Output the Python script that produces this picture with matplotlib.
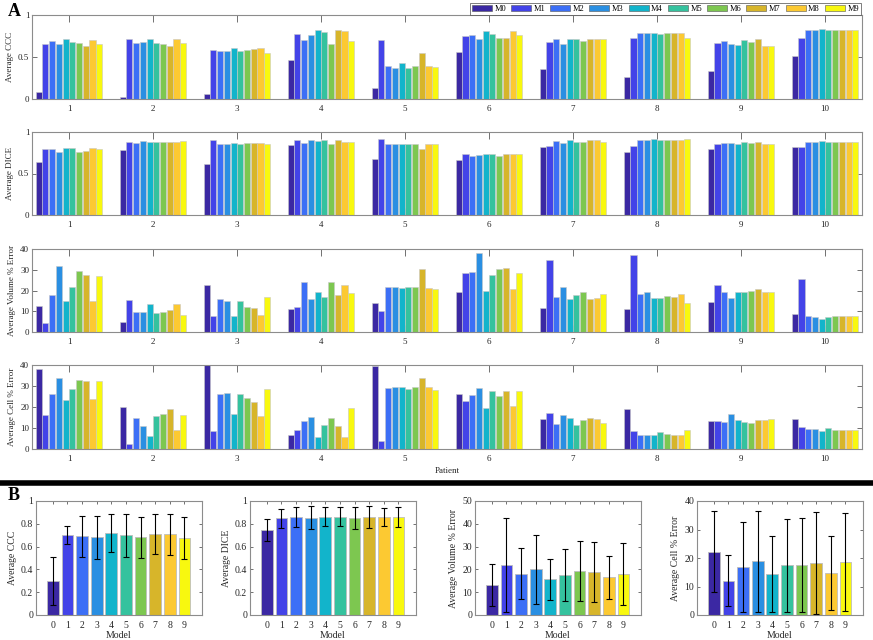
import numpy as np
import matplotlib
matplotlib.use("Agg")
import matplotlib.pyplot as plt
from matplotlib.lines import Line2D
from matplotlib.patches import Patch

plt.rcParams['font.family'] = ['Liberation Serif', 'DejaVu Serif']

models = ["M0", "M1", "M2", "M3", "M4", "M5", "M6", "M7", "M8", "M9"]
patients = [1, 2, 3, 4, 5, 6, 7, 8, 9, 10]

# panel A: one row per patient, one value per model
ccc = [
    [0.08, 0.66, 0.69, 0.65, 0.71, 0.68, 0.67, 0.63, 0.70, 0.66],
    [0.02, 0.71, 0.67, 0.68, 0.72, 0.67, 0.65, 0.63, 0.71, 0.67],
    [0.06, 0.58, 0.57, 0.57, 0.61, 0.57, 0.58, 0.59, 0.61, 0.55],
    [0.47, 0.77, 0.70, 0.76, 0.82, 0.80, 0.65, 0.82, 0.81, 0.69],
    [0.13, 0.70, 0.39, 0.37, 0.43, 0.37, 0.39, 0.55, 0.39, 0.38],
    [0.56, 0.75, 0.76, 0.72, 0.81, 0.77, 0.73, 0.73, 0.81, 0.76],
    [0.36, 0.68, 0.71, 0.66, 0.72, 0.71, 0.69, 0.71, 0.71, 0.71],
    [0.26, 0.73, 0.79, 0.79, 0.79, 0.77, 0.79, 0.79, 0.79, 0.73],
    [0.33, 0.67, 0.69, 0.66, 0.64, 0.70, 0.68, 0.71, 0.63, 0.63],
    [0.51, 0.73, 0.82, 0.82, 0.83, 0.82, 0.82, 0.82, 0.82, 0.82],
]
dice = [
    [0.64, 0.80, 0.80, 0.76, 0.81, 0.81, 0.76, 0.77, 0.81, 0.79],
    [0.78, 0.88, 0.87, 0.89, 0.88, 0.88, 0.88, 0.88, 0.88, 0.89],
    [0.62, 0.90, 0.86, 0.86, 0.87, 0.86, 0.87, 0.87, 0.87, 0.86],
    [0.84, 0.90, 0.87, 0.90, 0.89, 0.90, 0.86, 0.90, 0.88, 0.88],
    [0.67, 0.91, 0.85, 0.85, 0.85, 0.85, 0.85, 0.80, 0.85, 0.85],
    [0.66, 0.74, 0.71, 0.72, 0.74, 0.74, 0.71, 0.74, 0.74, 0.74],
    [0.82, 0.83, 0.89, 0.87, 0.90, 0.88, 0.88, 0.90, 0.90, 0.88],
    [0.76, 0.83, 0.90, 0.90, 0.91, 0.90, 0.90, 0.90, 0.90, 0.91],
    [0.79, 0.86, 0.87, 0.87, 0.86, 0.88, 0.87, 0.88, 0.86, 0.86],
    [0.82, 0.82, 0.88, 0.88, 0.89, 0.88, 0.88, 0.88, 0.88, 0.88],
]
vol_err = [
    [12.5, 4.5, 18.0, 32.0, 15.0, 21.6, 29.6, 27.5, 15.0, 26.9],
    [4.6, 15.5, 9.8, 9.8, 13.6, 9.0, 9.4, 10.4, 13.3, 8.3],
    [22.7, 7.5, 15.7, 15.0, 7.7, 15.0, 12.2, 11.5, 8.0, 17.1],
    [10.9, 12.0, 24.3, 16.0, 19.5, 16.8, 24.0, 18.0, 22.6, 18.9],
    [14.2, 9.9, 21.6, 21.9, 21.4, 21.6, 21.6, 30.4, 21.4, 20.8],
    [19.4, 28.5, 29.0, 37.9, 19.8, 27.7, 30.4, 30.9, 20.5, 28.6],
    [11.5, 34.7, 17.1, 21.8, 15.7, 17.8, 19.4, 15.7, 16.5, 18.4],
    [10.9, 37.0, 18.1, 19.2, 16.3, 16.3, 17.4, 17.1, 18.2, 13.8],
    [14.6, 22.6, 19.5, 16.6, 19.2, 19.2, 19.8, 20.8, 19.2, 19.5],
    [8.8, 25.6, 7.7, 7.4, 6.4, 7.4, 7.7, 7.7, 7.7, 7.7],
]
cell_err = [
    [37.9, 16.3, 26.3, 33.6, 23.3, 28.8, 32.8, 32.5, 23.6, 32.2],
    [19.8, 2.4, 15.0, 10.8, 6.2, 15.5, 16.6, 19.1, 8.9, 16.3],
    [41.0, 8.6, 26.3, 26.9, 16.6, 26.0, 24.1, 22.3, 15.9, 28.4],
    [6.5, 9.1, 13.2, 15.3, 5.9, 11.5, 14.7, 10.8, 5.9, 19.4],
    [39.7, 3.7, 29.0, 29.3, 29.3, 28.8, 29.3, 33.6, 29.5, 28.0],
    [26.3, 23.0, 25.7, 29.2, 19.6, 27.4, 25.2, 27.8, 20.5, 27.8],
    [14.3, 17.3, 11.9, 16.4, 14.8, 11.6, 14.0, 14.8, 14.3, 12.2],
    [18.9, 8.7, 6.6, 6.6, 6.7, 8.3, 7.1, 6.6, 6.6, 9.1],
    [13.3, 13.3, 12.8, 16.7, 13.6, 12.8, 12.2, 13.8, 13.8, 14.1],
    [14.4, 10.6, 9.5, 9.5, 8.7, 9.8, 9.0, 9.0, 9.0, 9.0],
]

# panel B: mean and std per model
model_ids = [0, 1, 2, 3, 4, 5, 6, 7, 8, 9]
ccc_mean = [0.30, 0.70, 0.69, 0.68, 0.72, 0.70, 0.68, 0.71, 0.71, 0.675]
ccc_std = [0.21, 0.08, 0.18, 0.19, 0.17, 0.19, 0.18, 0.175, 0.18, 0.185]
dice_mean = [0.746, 0.847, 0.858, 0.852, 0.864, 0.864, 0.852, 0.858, 0.86, 0.858]
dice_std = [0.095, 0.085, 0.09, 0.10, 0.08, 0.08, 0.095, 0.095, 0.08, 0.09]
vol_mean = [13.1, 21.8, 18.2, 20.0, 15.6, 17.5, 19.3, 18.8, 16.5, 18.0]
vol_std = [9.2, 20.6, 11.3, 15.0, 8.9, 11.5, 13.2, 13.3, 9.4, 13.6]
cell_mean = [22.2, 12.0, 16.9, 18.9, 14.4, 17.4, 17.6, 18.2, 14.6, 18.7]
cell_std = [14.2, 9.0, 15.9, 17.7, 13.2, 16.2, 16.6, 17.8, 13.0, 17.2]

colors = ["#3b28a3", "#4343e8", "#3c6ff6", "#2a8fe2", "#12b4cb",
          "#35c29e", "#7dc750", "#d7b52a", "#fcc932", "#f8f80f"]

W, H = 873, 640
fig = plt.figure(figsize=(W / 100, H / 100), dpi=100)


def px_axes(l, t, r, b):
    return fig.add_axes([l / W, 1 - b / H, (r - l) / W, (b - t) / H])


def style(ax, size=6.5):
    for s in ax.spines.values():
        s.set_color("#8c8c8c")
        s.set_linewidth(0.8)
    ax.tick_params(direction="in", top=True, right=True, length=3.5,
                   width=0.7, color="#707070", labelsize=size,
                   labelcolor="#262626", pad=2)


# ---- panel A
rows = [(15, 99), (132, 215), (249, 332), (365, 449)]
data_a = [ccc, dice, vol_err, cell_err]
ylabels = ["Average CCC", "Average DICE", "Average Volume % Error",
           "Average Cell % Error"]
yticks_a = [[0, 0.5, 1], [0, 0.5, 1], [0, 10, 20, 30, 40], [0, 10, 20, 30, 40]]
ytl_a = [["0", "0.5", "1"], ["0", "0.5", "1"], None, None]

x = np.array(patients)
step = 0.08
for i, (t, b) in enumerate(rows):
    ax = px_axes(32, t, 862, b)
    vals = np.array(data_a[i])
    for m in range(10):
        ax.bar(x + (m - 4.5) * step, vals[:, m], width=step * 0.9,
               color=colors[m], edgecolor="#c8c8c8", linewidth=0.4,
               label=models[m], zorder=2)
    ax.set_xlim(0.56, 10.44)
    ax.set_ylim(0, yticks_a[i][-1])
    ax.set_yticks(yticks_a[i])
    if ytl_a[i]:
        ax.set_yticklabels(ytl_a[i])
    ax.set_xticks(patients)
    ax.set_ylabel(ylabels[i], fontsize=6.5, color="#262626", labelpad=3)
    style(ax)
    ax.tick_params(axis="x", length=5, pad=4)
    if i == 0:
        handles = [Patch(facecolor=c, edgecolor="#555555", linewidth=0.4) for c in colors]
        leg = fig.legend(handles, models, loc="upper right",
                         bbox_to_anchor=(861 / W, 1 - 3 / H), ncol=10,
                         fontsize=6, frameon=True, fancybox=False,
                         handlelength=2.4, handleheight=0.8,
                         handletextpad=0.3, columnspacing=0.6,
                         borderpad=0.25, borderaxespad=0)
        leg.get_frame().set_edgecolor("#444444")
        leg.get_frame().set_linewidth(0.6)
    if i == 3:
        ax.set_xlabel("Patient", fontsize=6.5, color="#262626", labelpad=3)

fig.text(8 / W, 1 - 12 / H, "A", fontsize=13, fontweight="bold", va="center")
fig.add_artist(Line2D([0, 1], [1 - 483 / H, 1 - 483 / H], color="black",
                      linewidth=4, transform=fig.transFigure))
fig.text(8 / W, 1 - 496 / H, "B", fontsize=13, fontweight="bold", va="center")

# ---- panel B
lefts = [36, 250, 475, 697]
means = [ccc_mean, dice_mean, vol_mean, cell_mean]
stds = [ccc_std, dice_std, vol_std, cell_std]
ylabels_b = ["Average CCC", "Average DICE", "Average Volume % Error",
             "Average Cell % Error"]
yticks_b = [np.arange(0, 1.01, 0.2), np.arange(0, 1.01, 0.2),
            np.arange(0, 51, 10), np.arange(0, 41, 10)]
for j, l in enumerate(lefts):
    ax = px_axes(l, 501, l + 166, 615)
    ax.bar(model_ids, means[j], width=0.8, color=colors,
           edgecolor="#bdbdbd", linewidth=0.6, zorder=2)
    ax.errorbar(model_ids, means[j], yerr=stds[j], fmt="none",
                ecolor="black", elinewidth=0.8, capsize=2.2, capthick=0.8,
                zorder=3)
    ax.set_xlim(-1.15, 10.2)
    ax.set_ylim(0, yticks_b[j][-1])
    ax.set_yticks(yticks_b[j])
    if j < 2:
        ax.set_yticklabels(["0", "0.2", "0.4", "0.6", "0.8", "1"])
    ax.set_xticks(model_ids)
    ax.set_xlabel("Model", fontsize=7, color="#262626", labelpad=1)
    ax.set_ylabel(ylabels_b[j], fontsize=7, color="#262626", labelpad=3)
    style(ax, size=7)
    ax.tick_params(length=2)
    ax.tick_params(axis="x", pad=4)

fig.savefig("out.png", dpi=100)
